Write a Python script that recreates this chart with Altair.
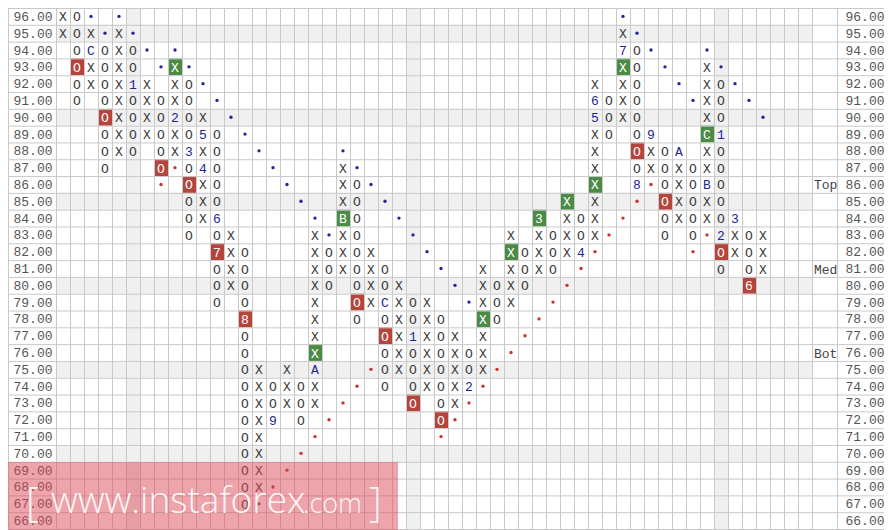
import altair as alt
import pandas as pd

# ---------------- data ----------------
prices = [96, 95, 94, 93, 92, 91, 90, 89, 88, 87, 86, 85, 84, 83, 82, 81,
          80, 79, 78, 77, 76, 75, 74, 73, 72, 71, 70, 69, 68, 67, 66]

# one string per price row, 54 columns; X / O boxes, month markers 1-9 A B C,
# '*' = blue trend dot, '+' = red trend dot, '.' = empty   ('|' every 10 columns)
pf_rows = [
    "XO*.*.....|..........|..........|..........|*.........|....",  # 96
    "XOX*X*....|..........|..........|..........|X*........|....",  # 95
    ".OCOXO*.*.|..........|..........|..........|7O*...*...|....",  # 94
    ".OXOXO.*X*|..........|..........|..........|XO.*..X*..|....",  # 93
    ".OXOX1X.XO|*.........|..........|........X.|XO..*.XO*.|....",  # 92
    ".O.OXOXOXO|.*........|..........|........6O|XO...*XO.*|....",  # 91
    "...OXOXO2O|X.*.......|..........|........5O|XO....XO..|*...",  # 90
    "...OXOXOXO|5O.*......|..........|........XO|.O9...C1..|....",  # 89
    "...OXO.OX3|XO..*.....|*.........|........X.|.OXOA.XO..|....",  # 88
    "...O...O+O|4O...*....|X*........|........X.|.OXOXOXO..|....",  # 87
    ".......+.O|XO....*...|XO*.......|........X.|.8+OXOBO..|....",  # 86
    ".........O|XO.....*..|XO.*......|......X.X.|.+.OXOXO..|....",  # 85
    ".........O|X6......*.|BO..*.....|....3.XOX.|+..OXOXO3.|....",  # 84
    ".........O|.OX.....X*|XO...*....|..X.XOXOX+|...O.O+2XO|X...",  # 83
    "..........|.7XO....XO|XOX...*...|..XOXOX4+.|.....+.OXO|X...",  # 82
    "..........|.OXO....XO|XOXO...*..|X.XOXO.+..|.......O.O|X...",  # 81
    "..........|.OXO....XO|.OXOX...*.|XOXO..+...|.........6|....",  # 80
    "..........|.O.O....X.|.OXCXOX..*|XOX..+....|..........|....",  # 79
    "..........|...8....X.|.O.OXOXO..|XO..+.....|..........|....",  # 78
    "..........|...O....X.|...OX1XOX.|X..+......|..........|....",  # 77
    "..........|...O....X.|...OXOXOXO|X.+.......|..........|....",  # 76
    "..........|...OX.X.A.|..+OXOXOXO|X+........|..........|....",  # 75
    "..........|...OXOXOX.|.+.O.OXOX2|+.........|..........|....",  # 74
    "..........|...OXOXOX.|+....O.OX+|..........|..........|....",  # 73
    "..........|...OX9.O.+|.......O+.|..........|..........|....",  # 72
    "..........|...OX...+.|.......+..|..........|..........|....",  # 71
    "..........|...OX..+..|..........|..........|..........|....",  # 70
    "..........|...OX.+...|..........|..........|..........|....",  # 69
    "..........|...OX+....|..........|..........|..........|....",  # 68
    "..........|...O+.....|..........|..........|..........|....",  # 67
    "..........|..........|..........|..........|..........|....",  # 66
]

red_boxes = [(1, 93), (3, 90), (7, 87), (9, 86), (11, 82), (13, 78), (21, 79),
             (23, 77), (25, 73), (27, 72), (41, 88), (43, 85), (47, 82), (49, 80)]
green_boxes = [(8, 93), (18, 76), (20, 84), (30, 78), (32, 82), (34, 84),
               (36, 85), (38, 86), (40, 93), (46, 89)]

shade_rows = [95, 90, 85, 80, 75, 70]
shade_cols = [5, 25, 47]
level_names = ["Top", "Med", "Bot"]
level_prices = [86, 81, 76]
n_cols = 54

# ---------------- styling ----------------
MONO = "Liberation Mono"
W = 14 * n_cols          # plot area = main grid
H = 521
GRID = "#c9c9c9"
SHADE = "#f0f0f0"
RED = "#b5443c"
GREEN = "#4b8b46"
BLUE = "#23239a"
INK = "#3a3a3a"

ys = alt.Scale(domain=[min(prices) - 0.5, max(prices) + 0.5], nice=False, zero=False)
xs = alt.Scale(domain=[-0.5, n_cols - 0.5], nice=False, zero=False)

# ---------------- tables ----------------
recs = []
box_of = {k: "red" for k in red_boxes}
box_of.update({k: "green" for k in green_boxes})
for p, row in zip(prices, pf_rows):
    s = row.replace("|", "")
    assert len(s) == n_cols, (p, len(s))
    for c, ch in enumerate(s):
        if ch != ".":
            recs.append({"c": c, "p": p, "ch": ch, "box": box_of.get((c, p), "")})
cells = pd.DataFrame(recs)

glyphs = cells[~cells["ch"].isin(["*", "+"])].copy()
glyphs["tc"] = [
    "white" if b else (INK if ch in "XO" else BLUE)
    for ch, b in zip(glyphs["ch"], glyphs["box"])
]
dots = cells[cells["ch"].isin(["*", "+"])].copy()
dots["dc"] = [BLUE if ch == "*" else "#c8322b" for ch in dots["ch"]]

boxes = cells[cells["box"] != ""].copy()
boxes["x0"] = boxes["c"] - 0.5
boxes["x1"] = boxes["c"] + 0.5
boxes["y0"] = boxes["p"] - 0.5
boxes["y1"] = boxes["p"] + 0.5

srows = pd.DataFrame({"y0": [r - 0.5 for r in shade_rows], "y1": [r + 0.5 for r in shade_rows]})
scols = pd.DataFrame({"x0": [c - 0.5 for c in shade_cols], "x1": [c + 0.5 for c in shade_cols]})
hb = pd.DataFrame({"b": [p + 0.5 for p in prices] + [min(prices) - 0.5]})
vb = pd.DataFrame({"b": [c - 0.5 for c in range(n_cols + 1)]})
levels = pd.DataFrame({"name": level_names, "p": level_prices})
one = pd.DataFrame({"k": [0]})

axis_common = dict(title=None, values=prices, format=".2f", domain=False, ticks=False,
                   grid=False, labelFont=MONO, labelFontSize=13, labelColor="#555555")

# ---------------- layers ----------------
l_srows = alt.Chart(srows).mark_rect(color=SHADE).encode(
    y=alt.Y("y0:Q", scale=ys, axis=None), y2="y1:Q",
    x=alt.value(0), x2=alt.value("width"))

l_scols = alt.Chart(scols).mark_rect(color=SHADE).encode(
    x=alt.X("x0:Q", scale=xs, axis=None), x2="x1:Q",
    y=alt.value(0), y2=alt.value("height"))

l_boxes = alt.Chart(boxes).mark_rect().encode(
    x=alt.X("x0:Q", scale=xs, axis=None), x2="x1:Q",
    y=alt.Y("y0:Q", scale=ys, axis=None), y2="y1:Q",
    color=alt.Color("box:N", scale=alt.Scale(domain=["red", "green"], range=[RED, GREEN]),
                    legend=None))

l_vlines = alt.Chart(vb).mark_rule(color=GRID, strokeWidth=1, xOffset=0.5).encode(
    x=alt.X("b:Q", scale=xs, axis=None), y=alt.value(0), y2=alt.value("height"))

l_hlines = alt.Chart(hb).mark_rule(color=GRID, strokeWidth=1, yOffset=0.5).encode(
    y=alt.Y("b:Q", scale=ys, axis=alt.Axis(orient="left", labelPadding=4, **axis_common)),
    x=alt.value(-48), x2=alt.value(W + 72))

l_border = alt.Chart(one).mark_rule(color=GRID, strokeWidth=1, xOffset=0.5).encode(
    x=alt.value(-48), y=alt.value(0), y2=alt.value("height"))
l_sep = alt.Chart(one).mark_rule(color=GRID, strokeWidth=1, xOffset=0.5).encode(
    x=alt.value(W + 25), y=alt.value(0), y2=alt.value("height"))

l_dots = alt.Chart(dots).mark_circle(size=11, opacity=1).encode(
    x=alt.X("c:Q", scale=xs, axis=None), y=alt.Y("p:Q", scale=ys, axis=None),
    color=alt.Color("dc:N", scale=None))

l_text = alt.Chart(glyphs).mark_text(font=MONO, fontSize=13, align="center",
                                     baseline="middle", dy=1).encode(
    x=alt.X("c:Q", scale=xs, axis=None), y=alt.Y("p:Q", scale=ys, axis=None),
    text="ch:N", color=alt.Color("tc:N", scale=None))

l_levels = alt.Chart(levels).mark_text(font=MONO, fontSize=13, align="left",
                                       baseline="middle", dy=1, color="#444444").encode(
    x=alt.value(W + 2),
    y=alt.Y("p:Q", scale=ys, axis=alt.Axis(orient="right", labelPadding=33, **axis_common)),
    text="name:N")

# watermark overlay
l_wm = alt.Chart(one).mark_rect(color="#dc4a55", opacity=0.5).encode(
    x=alt.value(-48), x2=alt.value(342), y=alt.value(454), y2=alt.value(H + 1))
wm_font = dict(font="Open Sans", color="white", opacity=0.92, baseline="alphabetic",
               align="left", fontWeight=300)
l_wm1 = alt.Chart(one).mark_text(fontSize=40, **wm_font).encode(
    x=alt.value(-30), y=alt.value(508), text=alt.value("["))
l_wm2 = alt.Chart(one).mark_text(fontSize=37, **wm_font).encode(
    x=alt.value(-5), y=alt.value(505), text=alt.value("www.instaforex"))
l_wm3 = alt.Chart(one).mark_text(fontSize=27, **wm_font).encode(
    x=alt.value(247), y=alt.value(505), text=alt.value(".com"))
l_wm4 = alt.Chart(one).mark_text(fontSize=40, **wm_font).encode(
    x=alt.value(313), y=alt.value(508), text=alt.value("]"))

chart = alt.layer(
    l_srows, l_scols, l_boxes, l_vlines, l_hlines, l_border, l_sep,
    l_dots, l_text, l_levels, l_wm, l_wm1, l_wm2, l_wm3, l_wm4
).resolve_axis(y="independent").properties(
    width=W, height=H,
    autosize=alt.AutoSizeParams(type="none"),
    padding={"left": 48, "right": 72, "top": 0, "bottom": 1},
).configure_view(stroke=None).configure(background="white")

chart.save("out.html", embed_options={"renderer": "svg", "actions": False})
